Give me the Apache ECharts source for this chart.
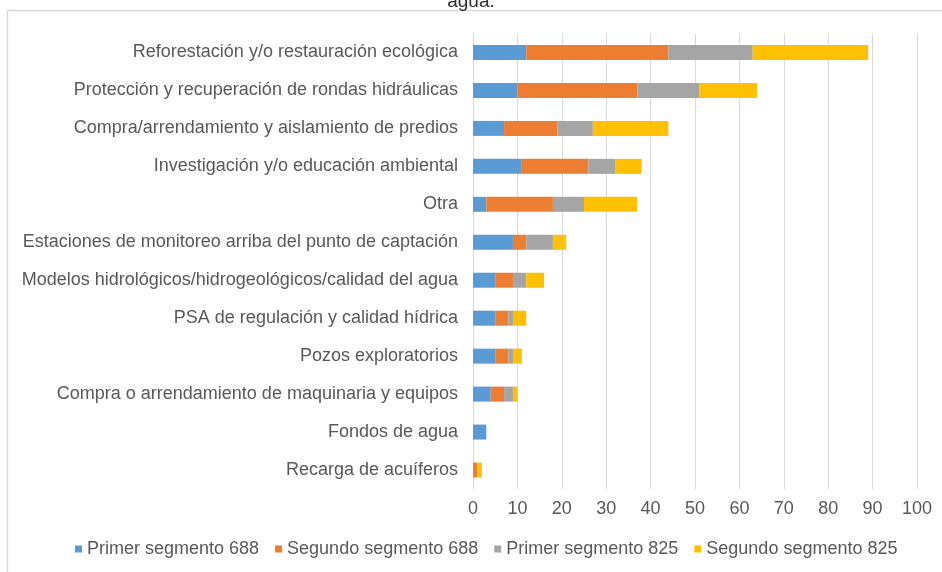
<!DOCTYPE html>
<html>
<head>
<meta charset="utf-8">
<script src="https://cdn.jsdelivr.net/npm/echarts@6/dist/echarts.min.js"></script>
<style>
  html, body { margin: 0; padding: 0; background: #fff; }
  #chart { width: 942px; height: 572px; }
</style>
</head>
<body>
<div id="chart"></div>
<script>
// Actividades (de arriba hacia abajo)
const categories = [
  'Reforestación y/o restauración ecológica',
  'Protección y recuperación de rondas hidráulicas',
  'Compra/arrendamiento y aislamiento de predios',
  'Investigación y/o educación ambiental',
  'Otra',
  'Estaciones de monitoreo arriba del punto de captación',
  'Modelos hidrológicos/hidrogeológicos/calidad del agua',
  'PSA de regulación y calidad hídrica',
  'Pozos exploratorios',
  'Compra o arrendamiento de maquinaria y equipos',
  'Fondos de agua',
  'Recarga de acuíferos'
];

const primer688   = [12, 10, 7, 11, 3, 9, 5, 5, 5, 4, 3, 0];
const segundo688  = [32, 27, 12, 15, 15, 3, 4, 3, 3, 3, 0, 1];
const primer825   = [19, 14, 8, 6, 7, 6, 3, 1, 1, 2, 0, 0];
const segundo825  = [26, 13, 17, 6, 12, 3, 4, 3, 2, 1, 0, 1];

const seriesNames = ['Primer segmento 688', 'Segundo segmento 688', 'Primer segmento 825', 'Segundo segmento 825'];
const seriesData = [primer688, segundo688, primer825, segundo825];
const seriesColors = ['#5B9BD5', '#ED7D31', '#A5A5A5', '#FFC000'];

const xTicks = { min: 0, max: 100, interval: 10 };

const textColor = '#595959';
const fontFamily = '"Liberation Sans", Arial, sans-serif';

const chart = echarts.init(document.getElementById('chart'), null, { renderer: 'canvas' });

chart.setOption({
  backgroundColor: '#ffffff',
  animation: false,
  color: seriesColors,
  textStyle: { fontFamily: fontFamily },
  title: {
    text: 'agua.',
    left: 'center',
    top: -13,
    textStyle: { color: '#303030', fontSize: 19, fontWeight: 'normal', fontFamily: fontFamily }
  },
  graphic: [{
    type: 'polyline',
    shape: { points: [[7.5, 600], [7.5, 10.5], [960, 10.5]] },
    style: { stroke: '#d9d9d9', lineWidth: 1.5, fill: null },
    silent: true
  }],
  grid: { left: 473, right: 25, top: 33.5, height: 455.5, containLabel: false },
  legend: {
    data: seriesNames,
    top: 535,
    left: 70,
    icon: 'rect',
    itemWidth: 7,
    itemHeight: 7,
    itemGap: 16,
    textStyle: { color: textColor, fontSize: 18, fontFamily: fontFamily }
  },
  xAxis: {
    type: 'value',
    min: xTicks.min,
    max: xTicks.max,
    interval: xTicks.interval,
    axisLine: { show: false },
    axisTick: { show: false },
    splitLine: { show: true, lineStyle: { color: '#d9d9d9', width: 1 } },
    axisLabel: { color: textColor, fontSize: 18, margin: 11, fontFamily: fontFamily }
  },
  yAxis: {
    type: 'category',
    data: categories,
    inverse: true,
    axisLine: { show: false },
    axisTick: { show: false },
    splitLine: { show: false },
    axisLabel: { color: textColor, fontSize: 18, margin: 15, fontFamily: fontFamily }
  },
  series: seriesData.map((d, i) => ({
    name: seriesNames[i],
    type: 'bar',
    stack: 'total',
    barWidth: 15,
    data: d,
    itemStyle: { color: seriesColors[i] }
  }))
});
</script>
</body>
</html>
